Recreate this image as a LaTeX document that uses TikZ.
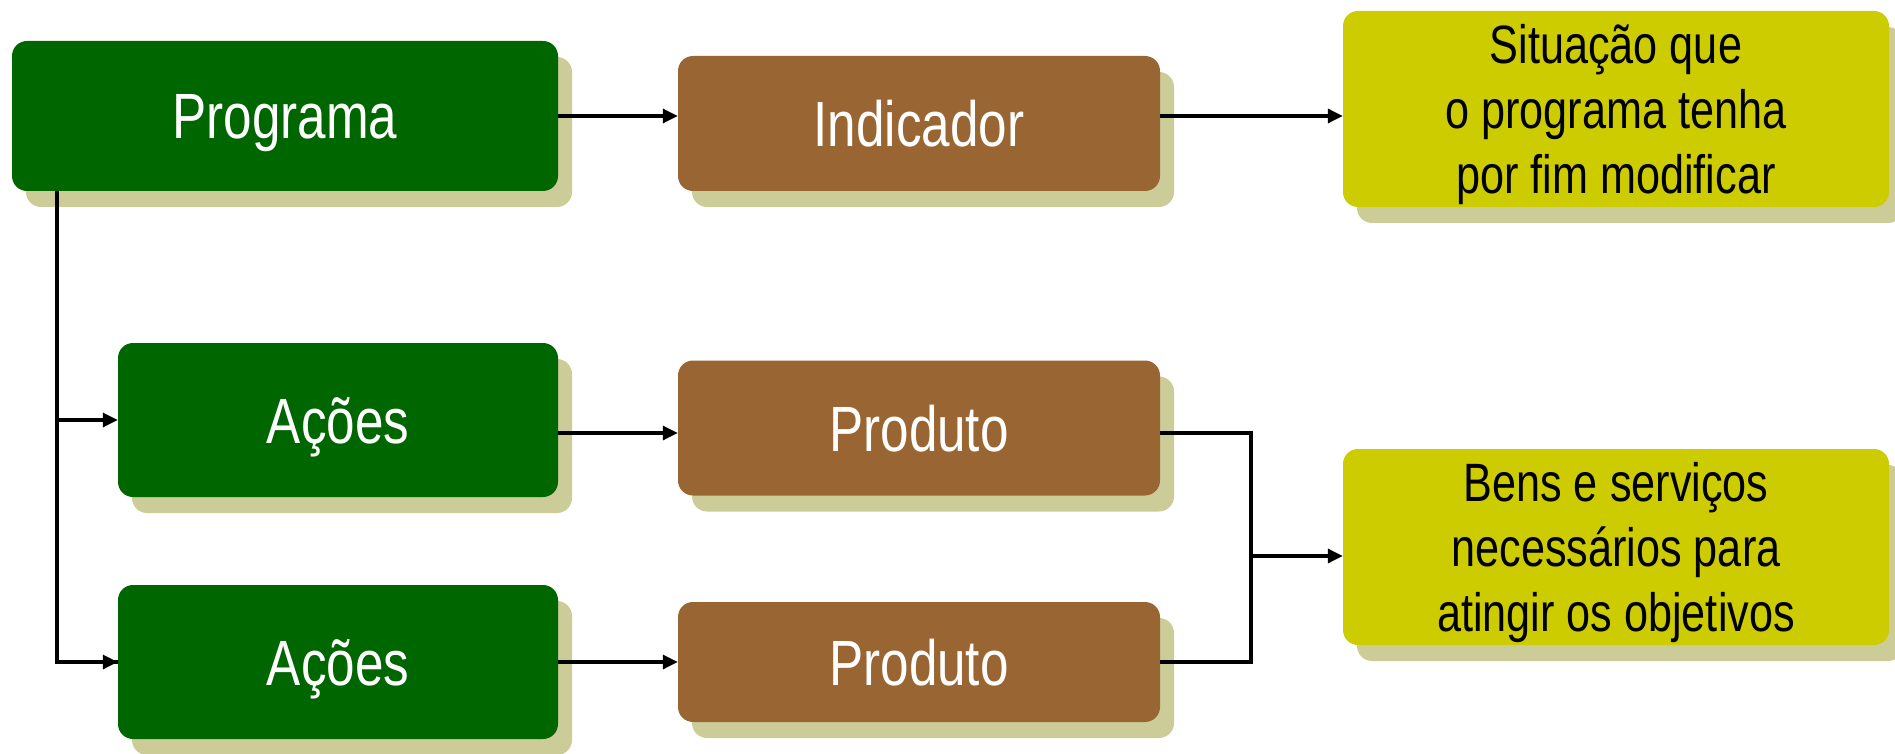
\documentclass[tikz,border=0pt]{standalone}
\usepackage{fontspec}
\setmainfont{Liberation Sans}
\newfontfamily\narrowfont[FakeStretch=0.8]{Liberation Sans}
\usetikzlibrary{arrows.meta,shadows}
\definecolor{greenc}{HTML}{006600}
\definecolor{brownc}{HTML}{996633}
\definecolor{yellowc}{HTML}{CCCC00}
\definecolor{shadowc}{HTML}{CCCC99}
\tikzset{
  boxbase/.style={rounded corners=15pt, inner sep=0pt,
    drop shadow={shadow xshift=14pt, shadow yshift=-16pt, fill=shadowc, opacity=1}},
  whitetext/.style={text=white, text height=46pt, text depth=0pt,
    font=\narrowfont\fontsize{64}{70}\selectfont},
  greenbox/.style={boxbase, whitetext, fill=greenc, minimum width=440pt, minimum height=154pt},
  brownbox/.style={boxbase, whitetext, fill=brownc, minimum width=482pt, minimum height=135pt},
  yellowbox/.style={boxbase, fill=yellowc, text=black, minimum width=546pt, minimum height=196pt,
    align=center, text depth=0pt, font=\narrowfont\fontsize{54}{65}\selectfont},
  conn/.style={line width=3.2pt, black},
  arr/.style={conn, -{Triangle[length=15pt,width=14pt]}}
}
\begin{document}
\begin{tikzpicture}[x=1pt,y=-1pt]
\useasboundingbox (0,0) rectangle (1895,754);
\node[greenbox, minimum width=546pt, minimum height=150pt] (prog) at (285,116) {Programa};
\node[brownbox] (ind) at (919,123.5) {Indicador};
\node[yellowbox] (sit) at (1616,109) {Situação que\\o programa tenha\\por fim modificar};
\node[greenbox] (a1) at (338,420) {Ações};
\node[brownbox] (p1) at (919,428) {Produto};
\node[greenbox] (a2) at (338,662) {Ações};
\node[brownbox, minimum height=120pt] (p2) at (919,662) {Produto};
\node[yellowbox] (bens) at (1616,547) {Bens e serviços\\necessários para\\atingir os objetivos};
\coordinate (trunk) at (57,0);
\coordinate (join) at (1251,556);
\draw[arr] (prog.east) -- (prog.east -| ind.west);
\draw[arr] (ind.east |- prog.east) -- (sit.west |- prog.east);
\draw[conn] (prog.south -| trunk) -- (trunk |- a2.west) -- (a2.west);
\draw[arr] (trunk |- a2.west) -- (a2.west);
\draw[arr] (trunk |- a1.west) -- (a1.west);
\draw[arr] (a1.east |- 0,433) -- (p1.west |- 0,433);
\draw[arr] (a2.east) -- (p2.west);
\draw[conn] (p1.east |- 0,433) -- (join |- 0,433) -- (join |- p2.east) -- (p2.east);
\draw[arr] (join) -- (join -| bens.west);
\end{tikzpicture}
\end{document}
